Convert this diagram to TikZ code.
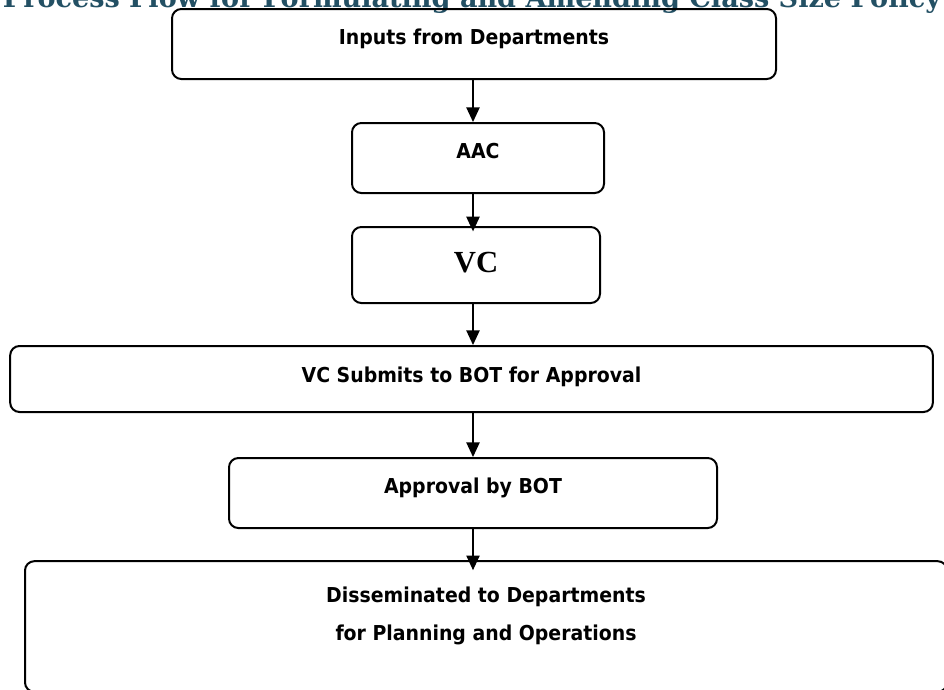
\documentclass[tikz,border=0pt]{standalone}
\usepackage{fontspec}
\usepackage{graphicx}
\usetikzlibrary{arrows.meta}
\newfontfamily\boxfont[FakeStretch=0.92]{DejaVu Sans}
\newfontfamily\titlefont{DejaVu Serif}
\newfontfamily\vcfont{Liberation Serif}
\definecolor{titleblue}{RGB}{35,80,100}

\begin{document}
\begin{tikzpicture}[x=0.75pt, y=-0.75pt,
  stage/.style={draw, line width=1.5pt, rounded corners=7pt, align=center,
    font=\boxfont\bfseries\fontsize{15.4}{18}\selectfont, text height=10pt, text depth=10pt},
  flow/.style={-{Triangle[length=11pt,width=10pt]}, line width=1pt}]
\useasboundingbox (0,0) rectangle (944,689);
\node [anchor=base, text=titleblue, font=\titlefont\bfseries, inner sep=0pt] (title) at (472,7)
  {\resizebox{703.5pt}{!}{Process Flow for Formulating and Amending Class Size Policy}};
\coordinate (spine) at (473,0);
\node [stage, minimum width=453pt, minimum height=52.5pt] (inputs) at (474,44) {Inputs from Departments};
\node [stage, minimum width=189pt, minimum height=52.5pt] (aac) at (478,158) {AAC};
\node [stage, minimum width=186pt, minimum height=57pt, font=\vcfont\bfseries\fontsize{23}{26}\selectfont,
  text height=14pt, text depth=3.5pt] (vc) at (476,265) {VC};
\node [stage, minimum width=692pt, minimum height=49.5pt, text height=12pt, text depth=7.5pt] (submit) at (471.5,379) {VC Submits to BOT for Approval};
\node [stage, minimum width=366pt, minimum height=52.5pt] (approve) at (473,493) {Approval by BOT};
\node [stage, minimum width=691.5pt, minimum height=98pt, text height=25.5pt, text depth=4pt] (dissem) at (486,626.5)
  {Disseminated to Departments\\[11pt] for Planning and Operations};
\draw [flow] (inputs.south -| spine) -- (aac.north -| spine);
\draw [flow, shorten >=-4pt] (aac.south -| spine) -- (vc.north -| spine);
\draw [flow] (vc.south -| spine) -- (submit.north -| spine);
\draw [flow] (submit.south -| spine) -- (approve.north -| spine);
\draw [flow, shorten >=-7.5pt] (approve.south -| spine) -- (dissem.north -| spine);
\end{tikzpicture}
\end{document}
